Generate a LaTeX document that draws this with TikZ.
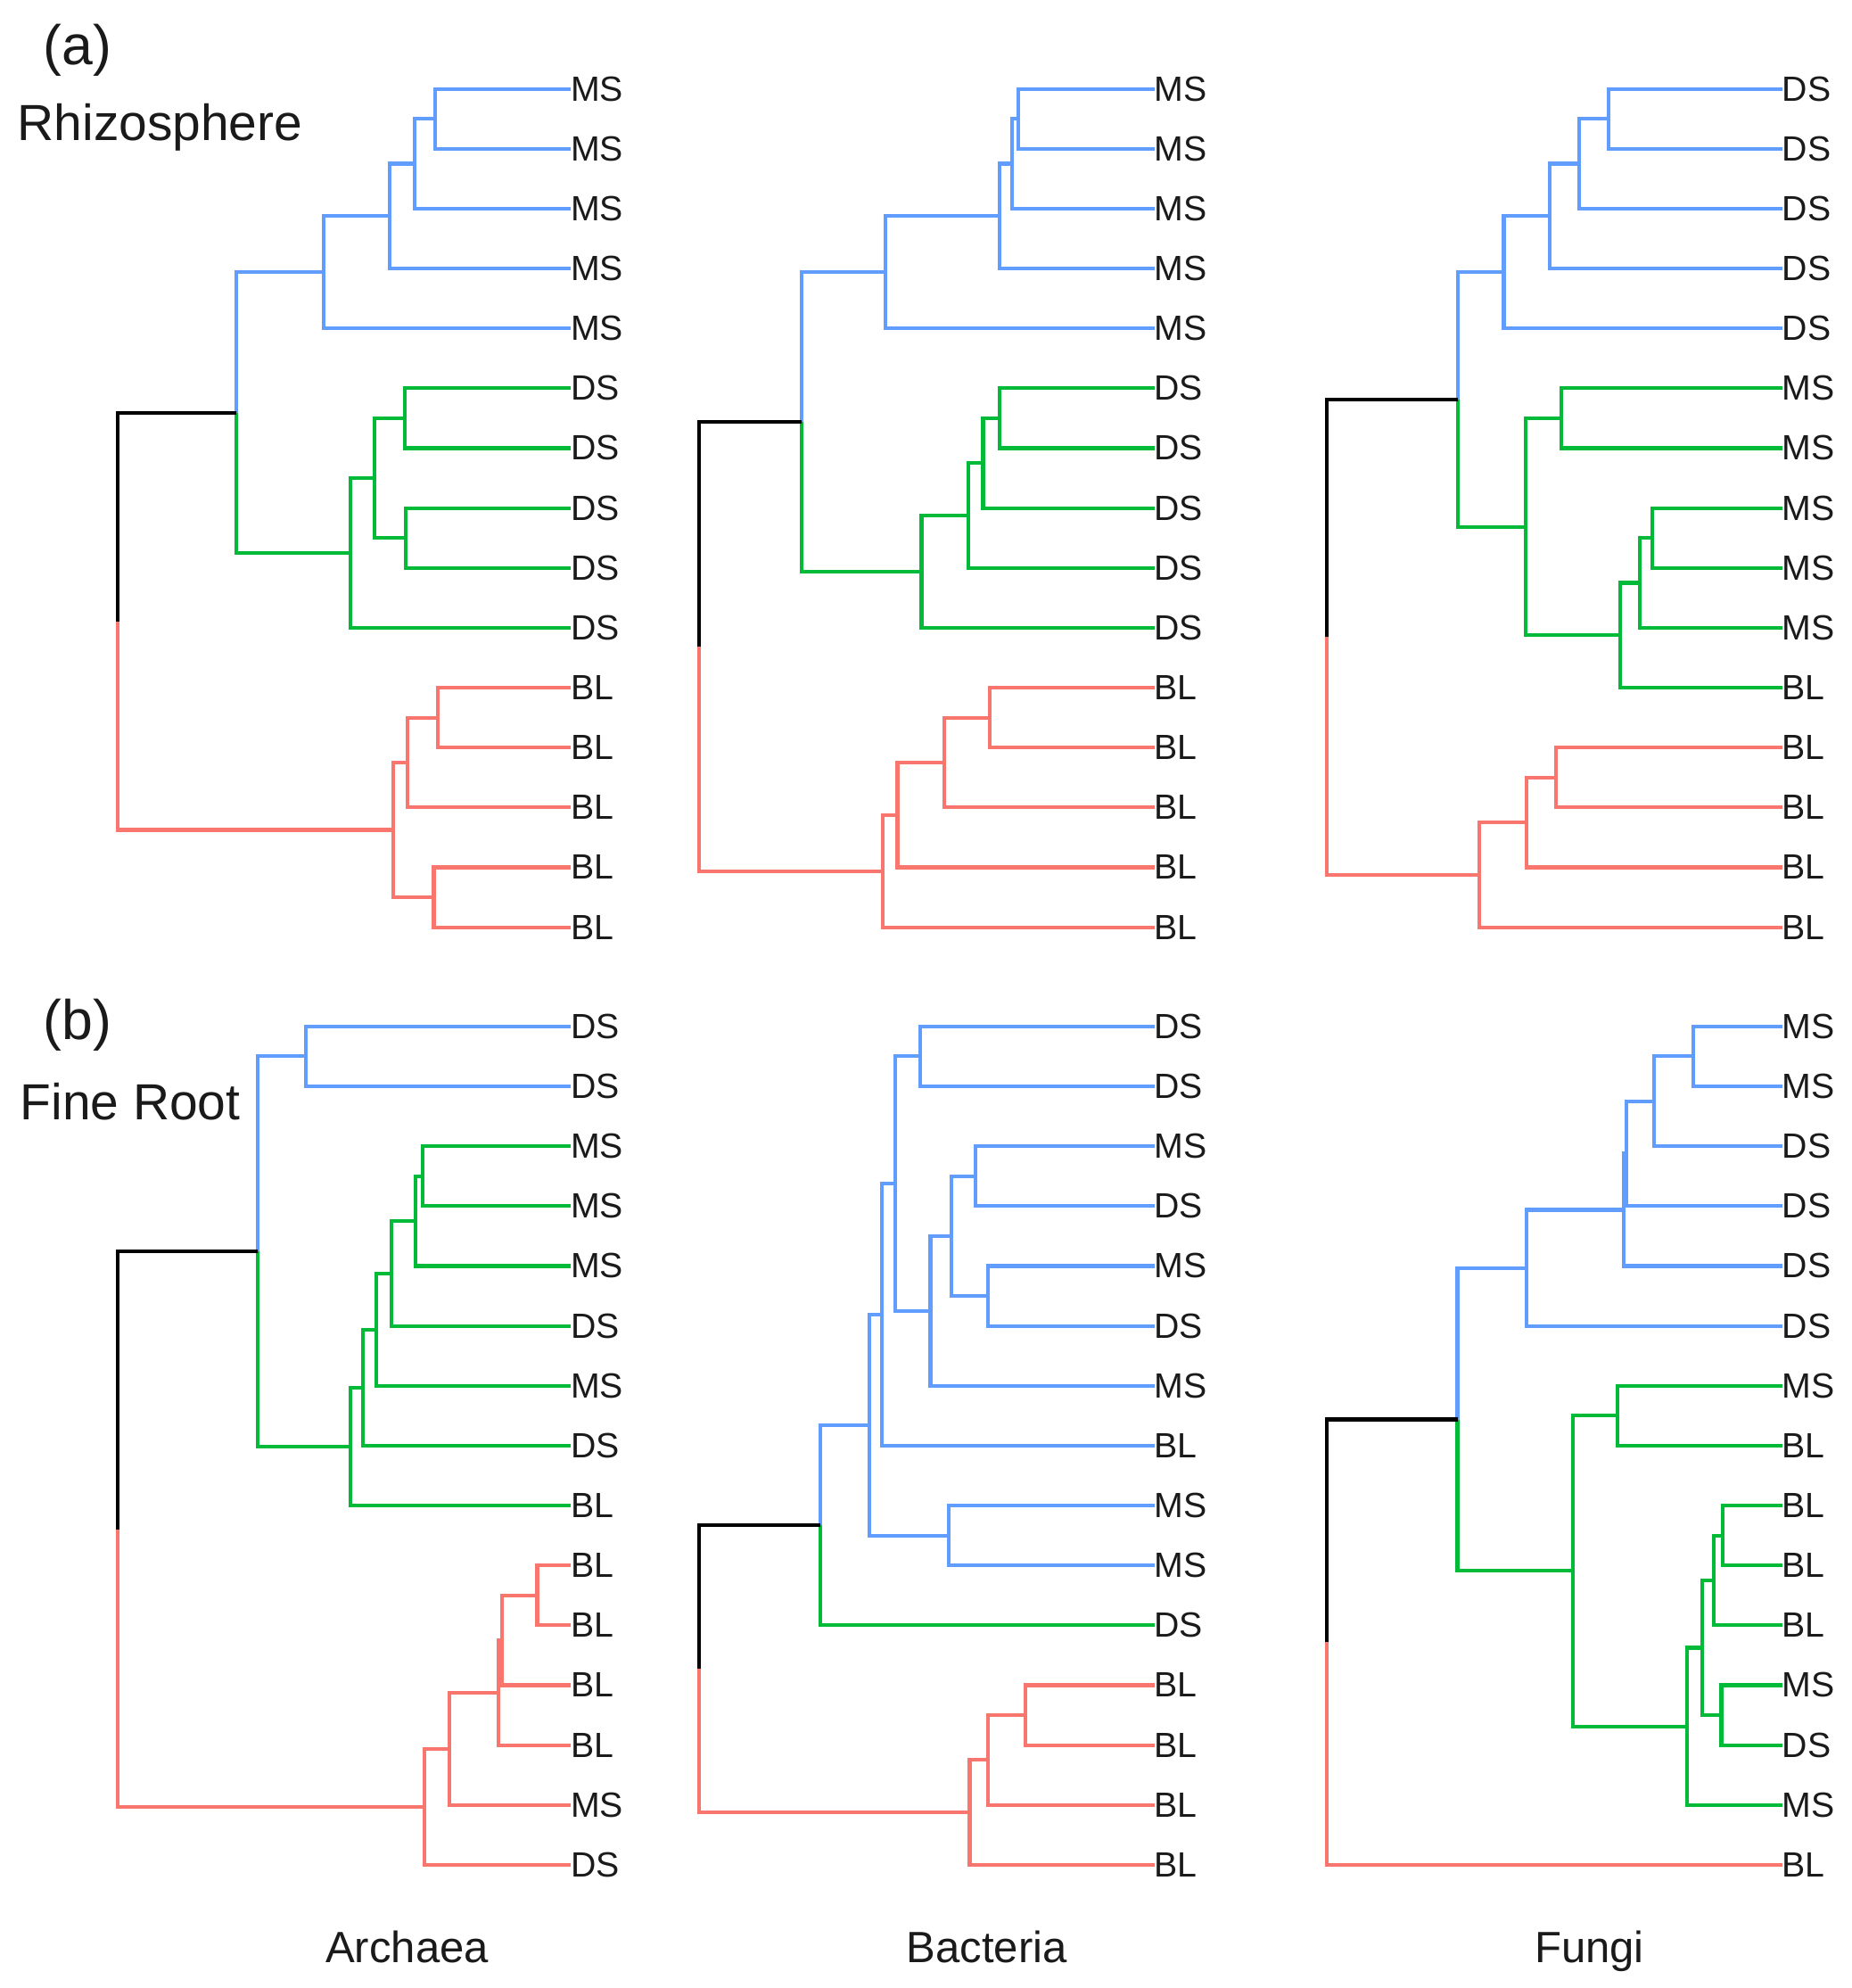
\documentclass[tikz,border=0pt]{standalone}
\usepackage{fontspec}
\setmainfont{Liberation Sans}
\definecolor{cblue}{HTML}{619CFF}
\definecolor{cgreen}{HTML}{00BA38}
\definecolor{cred}{HTML}{F8766D}
\definecolor{ctext}{HTML}{1A1A1A}
\tikzset{
  edge/.style={line width=1.45pt, line join=miter},
  eb/.style={edge, draw=cblue},
  eg/.style={edge, draw=cgreen},
  er/.style={edge, draw=cred},
  ek/.style={edge, draw=black},
  leaf/.style={anchor=west, inner sep=0pt, outer sep=0pt, text=ctext, font=\fontsize{13.8}{14}\selectfont},
  paneltag/.style={anchor=base west, inner sep=0pt, text=ctext, font=\fontsize{22}{22}\selectfont},
  paneltitle/.style={anchor=base west, inner sep=0pt, text=ctext, font=\fontsize{20}{20}\selectfont},
  coltitle/.style={anchor=base, inner sep=0pt, text=ctext, font=\fontsize{17.25}{17}\selectfont}
}
\begin{document}
\begin{tikzpicture}[x=0.5pt, y=-0.5pt]
\useasboundingbox (0,0) rectangle (1460,1566.9);

% ---------- titles ----------
\node[paneltag] (ta) at (34,51) {(a)};
\node[paneltitle] (trh) at (13.5,111) {Rhizosphere};
\node[paneltag] (tb) at (34,819.4) {(b)};
\node[paneltitle] (tfr) at (15.5,882.6) {Fine Root};
\node[coltitle] (tarc) at (321,1547) {Archaea};
\node[coltitle] (tbac) at (778,1547) {Bacteria};
\node[coltitle] (tfun) at (1253,1547) {Fungi};

% ================= A1 : Rhizosphere / Archaea =================
\node[leaf] (a1l0) at (450,70) {MS};
\node[leaf] (a1l1) at (450,117.2) {MS};
\node[leaf] (a1l2) at (450,164.4) {MS};
\node[leaf] (a1l3) at (450,211.6) {MS};
\node[leaf] (a1l4) at (450,258.8) {MS};
\node[leaf] (a1l5) at (450,306) {DS};
\node[leaf] (a1l6) at (450,353.2) {DS};
\node[leaf] (a1l7) at (450,400.4) {DS};
\node[leaf] (a1l8) at (450,447.6) {DS};
\node[leaf] (a1l9) at (450,494.8) {DS};
\node[leaf] (a1l10) at (450,542) {BL};
\node[leaf] (a1l11) at (450,589.2) {BL};
\node[leaf] (a1l12) at (450,636.4) {BL};
\node[leaf] (a1l13) at (450,683.6) {BL};
\node[leaf] (a1l14) at (450,730.8) {BL};
\coordinate (a1b1) at (343,93.6);
\coordinate (a1b2) at (327,129);
\coordinate (a1b3) at (307,170.3);
\coordinate (a1b4) at (255,214.55);
\coordinate (a1g1) at (319,329.6);
\coordinate (a1g2) at (320,424);
\coordinate (a1g3) at (295,376.8);
\coordinate (a1g4) at (276,435.8);
\coordinate (a1m) at (186,325.2);
\coordinate (a1r1) at (345,565.6);
\coordinate (a1r2) at (321.5,601);
\coordinate (a1r3) at (342,707.2);
\coordinate (a1r4) at (310,654.1);
\coordinate (a1root) at (93,489.65);
\draw[eb] (a1b1) |- (a1l0.west); \draw[eb] (a1b1) |- (a1l1.west);
\draw[eb] (a1b2) |- (a1b1); \draw[eb] (a1b2) |- (a1l2.west);
\draw[eb] (a1b3) |- (a1b2); \draw[eb] (a1b3) |- (a1l3.west);
\draw[eb] (a1b4) |- (a1b3); \draw[eb] (a1b4) |- (a1l4.west);
\draw[eg] (a1g1) |- (a1l5.west); \draw[eg] (a1g1) |- (a1l6.west);
\draw[eg] (a1g2) |- (a1l7.west); \draw[eg] (a1g2) |- (a1l8.west);
\draw[eg] (a1g3) |- (a1g1); \draw[eg] (a1g3) |- (a1g2);
\draw[eg] (a1g4) |- (a1g3); \draw[eg] (a1g4) |- (a1l9.west);
\draw[eb] (a1m) |- (a1b4); \draw[eg] (a1m) |- (a1g4);
\draw[er] (a1r1) |- (a1l10.west); \draw[er] (a1r1) |- (a1l11.west);
\draw[er] (a1r2) |- (a1r1); \draw[er] (a1r2) |- (a1l12.west);
\draw[er] (a1r3) |- (a1l13.west); \draw[er] (a1r3) |- (a1l14.west);
\draw[er] (a1r4) |- (a1r2); \draw[er] (a1r4) |- (a1r3);
\draw[ek] (a1root) |- (a1m); \draw[er] (a1root) |- (a1r4);

% ================= A2 : Rhizosphere / Bacteria =================
\node[leaf] (a2l0) at (910,70) {MS};
\node[leaf] (a2l1) at (910,117.2) {MS};
\node[leaf] (a2l2) at (910,164.4) {MS};
\node[leaf] (a2l3) at (910,211.6) {MS};
\node[leaf] (a2l4) at (910,258.8) {MS};
\node[leaf] (a2l5) at (910,306) {DS};
\node[leaf] (a2l6) at (910,353.2) {DS};
\node[leaf] (a2l7) at (910,400.4) {DS};
\node[leaf] (a2l8) at (910,447.6) {DS};
\node[leaf] (a2l9) at (910,494.8) {DS};
\node[leaf] (a2l10) at (910,542) {BL};
\node[leaf] (a2l11) at (910,589.2) {BL};
\node[leaf] (a2l12) at (910,636.4) {BL};
\node[leaf] (a2l13) at (910,683.6) {BL};
\node[leaf] (a2l14) at (910,730.8) {BL};
\coordinate (a2b1) at (803,93.6);
\coordinate (a2b2) at (798,129);
\coordinate (a2b3) at (788,170.3);
\coordinate (a2b4) at (698,214.55);
\coordinate (a2g1) at (788,329.6);
\coordinate (a2g2) at (775,364.9);
\coordinate (a2g3) at (763.5,406.25);
\coordinate (a2g4) at (726.5,450.5);
\coordinate (a2m) at (632,332.5);
\coordinate (a2r1) at (780.5,565.6);
\coordinate (a2r2) at (744.5,601);
\coordinate (a2r3) at (707.5,642.3);
\coordinate (a2r4) at (696,686.55);
\coordinate (a2root) at (551,509.5);
\draw[eb] (a2b1) |- (a2l0.west); \draw[eb] (a2b1) |- (a2l1.west);
\draw[eb] (a2b2) |- (a2b1); \draw[eb] (a2b2) |- (a2l2.west);
\draw[eb] (a2b3) |- (a2b2); \draw[eb] (a2b3) |- (a2l3.west);
\draw[eb] (a2b4) |- (a2b3); \draw[eb] (a2b4) |- (a2l4.west);
\draw[eg] (a2g1) |- (a2l5.west); \draw[eg] (a2g1) |- (a2l6.west);
\draw[eg] (a2g2) |- (a2g1); \draw[eg] (a2g2) |- (a2l7.west);
\draw[eg] (a2g3) |- (a2g2); \draw[eg] (a2g3) |- (a2l8.west);
\draw[eg] (a2g4) |- (a2g3); \draw[eg] (a2g4) |- (a2l9.west);
\draw[eb] (a2m) |- (a2b4); \draw[eg] (a2m) |- (a2g4);
\draw[er] (a2r1) |- (a2l10.west); \draw[er] (a2r1) |- (a2l11.west);
\draw[er] (a2r2) |- (a2r1); \draw[er] (a2r2) |- (a2l12.west);
\draw[er] (a2r3) |- (a2r2); \draw[er] (a2r3) |- (a2l13.west);
\draw[er] (a2r4) |- (a2r3); \draw[er] (a2r4) |- (a2l14.west);
\draw[ek] (a2root) |- (a2m); \draw[er] (a2root) |- (a2r4);

% ================= A3 : Rhizosphere / Fungi =================
\node[leaf] (a3l0) at (1405,70) {DS};
\node[leaf] (a3l1) at (1405,117.2) {DS};
\node[leaf] (a3l2) at (1405,164.4) {DS};
\node[leaf] (a3l3) at (1405,211.6) {DS};
\node[leaf] (a3l4) at (1405,258.8) {DS};
\node[leaf] (a3l5) at (1405,306) {MS};
\node[leaf] (a3l6) at (1405,353.2) {MS};
\node[leaf] (a3l7) at (1405,400.4) {MS};
\node[leaf] (a3l8) at (1405,447.6) {MS};
\node[leaf] (a3l9) at (1405,494.8) {MS};
\node[leaf] (a3l10) at (1405,542) {BL};
\node[leaf] (a3l11) at (1405,589.2) {BL};
\node[leaf] (a3l12) at (1405,636.4) {BL};
\node[leaf] (a3l13) at (1405,683.6) {BL};
\node[leaf] (a3l14) at (1405,730.8) {BL};
\coordinate (a3b1) at (1268,93.6);
\coordinate (a3b2) at (1245,129);
\coordinate (a3b3) at (1221.5,170.3);
\coordinate (a3b4) at (1185.5,214.55);
\coordinate (a3g1) at (1231,329.6);
\coordinate (a3g2) at (1302.5,424);
\coordinate (a3g3) at (1293,459.4);
\coordinate (a3g4) at (1277,500.7);
\coordinate (a3g5) at (1203,415.15);
\coordinate (a3m) at (1149.5,314.85);
\coordinate (a3r1) at (1226.5,612.8);
\coordinate (a3r2) at (1203.5,648.2);
\coordinate (a3r3) at (1166,689.5);
\coordinate (a3root) at (1046,502.2);
\draw[eb] (a3b1) |- (a3l0.west); \draw[eb] (a3b1) |- (a3l1.west);
\draw[eb] (a3b2) |- (a3b1); \draw[eb] (a3b2) |- (a3l2.west);
\draw[eb] (a3b3) |- (a3b2); \draw[eb] (a3b3) |- (a3l3.west);
\draw[eb] (a3b4) |- (a3b3); \draw[eb] (a3b4) |- (a3l4.west);
\draw[eg] (a3g1) |- (a3l5.west); \draw[eg] (a3g1) |- (a3l6.west);
\draw[eg] (a3g2) |- (a3l7.west); \draw[eg] (a3g2) |- (a3l8.west);
\draw[eg] (a3g3) |- (a3g2); \draw[eg] (a3g3) |- (a3l9.west);
\draw[eg] (a3g4) |- (a3g3); \draw[eg] (a3g4) |- (a3l10.west);
\draw[eg] (a3g5) |- (a3g1); \draw[eg] (a3g5) |- (a3g4);
\draw[eb] (a3m) |- (a3b4); \draw[eg] (a3m) |- (a3g5);
\draw[er] (a3r1) |- (a3l11.west); \draw[er] (a3r1) |- (a3l12.west);
\draw[er] (a3r2) |- (a3r1); \draw[er] (a3r2) |- (a3l13.west);
\draw[er] (a3r3) |- (a3r2); \draw[er] (a3r3) |- (a3l14.west);
\draw[ek] (a3root) |- (a3m); \draw[er] (a3root) |- (a3r3);

% ================= B1 : Fine Root / Archaea =================
\node[leaf] (b1l0) at (450,809) {DS};
\node[leaf] (b1l1) at (450,856.2) {DS};
\node[leaf] (b1l2) at (450,903.4) {MS};
\node[leaf] (b1l3) at (450,950.6) {MS};
\node[leaf] (b1l4) at (450,997.8) {MS};
\node[leaf] (b1l5) at (450,1045) {DS};
\node[leaf] (b1l6) at (450,1092.2) {MS};
\node[leaf] (b1l7) at (450,1139.4) {DS};
\node[leaf] (b1l8) at (450,1186.6) {BL};
\node[leaf] (b1l9) at (450,1233.8) {BL};
\node[leaf] (b1l10) at (450,1281) {BL};
\node[leaf] (b1l11) at (450,1328.2) {BL};
\node[leaf] (b1l12) at (450,1375.4) {BL};
\node[leaf] (b1l13) at (450,1422.6) {MS};
\node[leaf] (b1l14) at (450,1469.8) {DS};
\coordinate (b1b1) at (241,832.6);
\coordinate (b1g1) at (333,927);
\coordinate (b1g2) at (327.5,962.4);
\coordinate (b1g3) at (308.5,1003.7);
\coordinate (b1g4) at (296.5,1047.95);
\coordinate (b1g5) at (286,1093.7);
\coordinate (b1g6) at (276.5,1140.15);
\coordinate (b1m) at (203,986.4);
\coordinate (b1r1) at (423.5,1257.4);
\coordinate (b1r2) at (395.5,1292.8);
\coordinate (b1r3) at (393,1334.1);
\coordinate (b1r4) at (354,1378.35);
\coordinate (b1r5) at (334.5,1424.1);
\coordinate (b1root) at (93,1205.25);
\draw[eb] (b1b1) |- (b1l0.west); \draw[eb] (b1b1) |- (b1l1.west);
\draw[eg] (b1g1) |- (b1l2.west); \draw[eg] (b1g1) |- (b1l3.west);
\draw[eg] (b1g2) |- (b1g1); \draw[eg] (b1g2) |- (b1l4.west);
\draw[eg] (b1g3) |- (b1g2); \draw[eg] (b1g3) |- (b1l5.west);
\draw[eg] (b1g4) |- (b1g3); \draw[eg] (b1g4) |- (b1l6.west);
\draw[eg] (b1g5) |- (b1g4); \draw[eg] (b1g5) |- (b1l7.west);
\draw[eg] (b1g6) |- (b1g5); \draw[eg] (b1g6) |- (b1l8.west);
\draw[eb] (b1m) |- (b1b1); \draw[eg] (b1m) |- (b1g6);
\draw[er] (b1r1) |- (b1l9.west); \draw[er] (b1r1) |- (b1l10.west);
\draw[er] (b1r2) |- (b1r1); \draw[er] (b1r2) |- (b1l11.west);
\draw[er] (b1r3) |- (b1r2); \draw[er] (b1r3) |- (b1l12.west);
\draw[er] (b1r4) |- (b1r3); \draw[er] (b1r4) |- (b1l13.west);
\draw[er] (b1r5) |- (b1r4); \draw[er] (b1r5) |- (b1l14.west);
\draw[ek] (b1root) |- (b1m); \draw[er] (b1root) |- (b1r5);

% ================= B2 : Fine Root / Bacteria =================
\node[leaf] (b2l0) at (910,809) {DS};
\node[leaf] (b2l1) at (910,856.2) {DS};
\node[leaf] (b2l2) at (910,903.4) {MS};
\node[leaf] (b2l3) at (910,950.6) {DS};
\node[leaf] (b2l4) at (910,997.8) {MS};
\node[leaf] (b2l5) at (910,1045) {DS};
\node[leaf] (b2l6) at (910,1092.2) {MS};
\node[leaf] (b2l7) at (910,1139.4) {BL};
\node[leaf] (b2l8) at (910,1186.6) {MS};
\node[leaf] (b2l9) at (910,1233.8) {MS};
\node[leaf] (b2l10) at (910,1281) {DS};
\node[leaf] (b2l11) at (910,1328.2) {BL};
\node[leaf] (b2l12) at (910,1375.4) {BL};
\node[leaf] (b2l13) at (910,1422.6) {BL};
\node[leaf] (b2l14) at (910,1469.8) {BL};
\coordinate (b2b1) at (725.5,832.6);
\coordinate (b2b2) at (769,927);
\coordinate (b2b3) at (779,1021.4);
\coordinate (b2b4) at (750,974.2);
\coordinate (b2b5) at (733.5,1033.2);
\coordinate (b2b6) at (705.5,932.9);
\coordinate (b2b7) at (695.5,1036.15);
\coordinate (b2b8) at (748,1210.2);
\coordinate (b2b9) at (685.5,1123.2);
\coordinate (b2m) at (646.5,1202.1);
\coordinate (b2r1) at (808.5,1351.8);
\coordinate (b2r2) at (779,1387.2);
\coordinate (b2r3) at (764.5,1428.5);
\coordinate (b2root) at (551,1315.3);
\draw[eb] (b2b1) |- (b2l0.west); \draw[eb] (b2b1) |- (b2l1.west);
\draw[eb] (b2b2) |- (b2l2.west); \draw[eb] (b2b2) |- (b2l3.west);
\draw[eb] (b2b3) |- (b2l4.west); \draw[eb] (b2b3) |- (b2l5.west);
\draw[eb] (b2b4) |- (b2b2); \draw[eb] (b2b4) |- (b2b3);
\draw[eb] (b2b5) |- (b2b4); \draw[eb] (b2b5) |- (b2l6.west);
\draw[eb] (b2b6) |- (b2b1); \draw[eb] (b2b6) |- (b2b5);
\draw[eb] (b2b7) |- (b2b6); \draw[eb] (b2b7) |- (b2l7.west);
\draw[eb] (b2b8) |- (b2l8.west); \draw[eb] (b2b8) |- (b2l9.west);
\draw[eb] (b2b9) |- (b2b7); \draw[eb] (b2b9) |- (b2b8);
\draw[eb] (b2m) |- (b2b9); \draw[eg] (b2m) |- (b2l10.west);
\draw[er] (b2r1) |- (b2l11.west); \draw[er] (b2r1) |- (b2l12.west);
\draw[er] (b2r2) |- (b2r1); \draw[er] (b2r2) |- (b2l13.west);
\draw[er] (b2r3) |- (b2r2); \draw[er] (b2r3) |- (b2l14.west);
\draw[ek] (b2root) |- (b2m); \draw[er] (b2root) |- (b2r3);

% ================= B3 : Fine Root / Fungi =================
\node[leaf] (b3l0) at (1405,809) {MS};
\node[leaf] (b3l1) at (1405,856.2) {MS};
\node[leaf] (b3l2) at (1405,903.4) {DS};
\node[leaf] (b3l3) at (1405,950.6) {DS};
\node[leaf] (b3l4) at (1405,997.8) {DS};
\node[leaf] (b3l5) at (1405,1045) {DS};
\node[leaf] (b3l6) at (1405,1092.2) {MS};
\node[leaf] (b3l7) at (1405,1139.4) {BL};
\node[leaf] (b3l8) at (1405,1186.6) {BL};
\node[leaf] (b3l9) at (1405,1233.8) {BL};
\node[leaf] (b3l10) at (1405,1281) {BL};
\node[leaf] (b3l11) at (1405,1328.2) {MS};
\node[leaf] (b3l12) at (1405,1375.4) {DS};
\node[leaf] (b3l13) at (1405,1422.6) {MS};
\node[leaf] (b3l14) at (1405,1469.8) {BL};
\coordinate (b3b1) at (1335,832.6);
\coordinate (b3b2) at (1304,868);
\coordinate (b3b3) at (1282,909.3);
\coordinate (b3b4) at (1280,953.55);
\coordinate (b3b5) at (1203.5,999.3);
\coordinate (b3g1) at (1275,1115.8);
\coordinate (b3g2) at (1358,1210.2);
\coordinate (b3g3) at (1351,1245.6);
\coordinate (b3g4) at (1357,1351.8);
\coordinate (b3g5) at (1342,1298.7);
\coordinate (b3g6) at (1330,1360.65);
\coordinate (b3g7) at (1240,1238.2);
\coordinate (b3m) at (1149,1118.75);
\coordinate (b3root) at (1046,1294.3);
\draw[eb] (b3b1) |- (b3l0.west); \draw[eb] (b3b1) |- (b3l1.west);
\draw[eb] (b3b2) |- (b3b1); \draw[eb] (b3b2) |- (b3l2.west);
\draw[eb] (b3b3) |- (b3b2); \draw[eb] (b3b3) |- (b3l3.west);
\draw[eb] (b3b4) |- (b3b3); \draw[eb] (b3b4) |- (b3l4.west);
\draw[eb] (b3b5) |- (b3b4); \draw[eb] (b3b5) |- (b3l5.west);
\draw[eg] (b3g1) |- (b3l6.west); \draw[eg] (b3g1) |- (b3l7.west);
\draw[eg] (b3g2) |- (b3l8.west); \draw[eg] (b3g2) |- (b3l9.west);
\draw[eg] (b3g3) |- (b3g2); \draw[eg] (b3g3) |- (b3l10.west);
\draw[eg] (b3g4) |- (b3l11.west); \draw[eg] (b3g4) |- (b3l12.west);
\draw[eg] (b3g5) |- (b3g3); \draw[eg] (b3g5) |- (b3g4);
\draw[eg] (b3g6) |- (b3g5); \draw[eg] (b3g6) |- (b3l13.west);
\draw[eg] (b3g7) |- (b3g1); \draw[eg] (b3g7) |- (b3g6);
\draw[eb] (b3m) |- (b3b5); \draw[eg] (b3m) |- (b3g7);
\draw[ek] (b3root) |- (b3m); \draw[er] (b3root) |- (b3l14.west);
\end{tikzpicture}
\end{document}
